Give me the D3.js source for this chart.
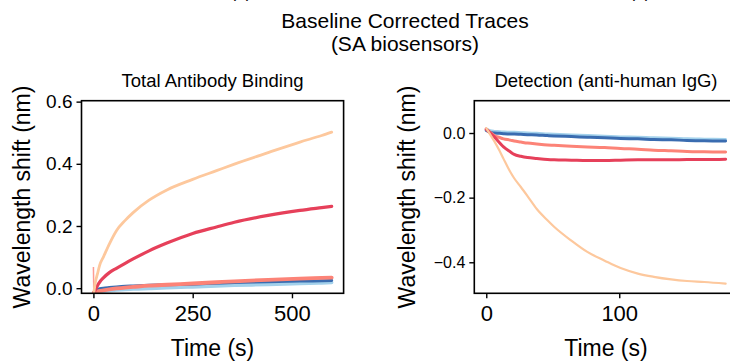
<!DOCTYPE html>
<html>
<head>
<meta charset="utf-8">
<script src="https://cdn.jsdelivr.net/npm/d3@7"></script>
<style>
  body { margin: 0; background: #fff; }
  text { font-family: "Liberation Sans", Arial, sans-serif; fill: #000; }
</style>
</head>
<body>
<div id="chart"></div>
<script>
// colours of the five traces
let colors = {
  peach: "#fdc89d",
  crimson: "#e6405a",
  salmon: "#fc8377",
  darkBlue: "#3a6cb0",
  lightBlue: "#a3d1eb"
};

// left panel: total antibody binding
let leftTime = [1, 5, 10, 16, 25, 40, 58, 80, 100, 140, 185, 250, 310, 355, 440, 520, 575, 600];
let leftPeach = [-0.015, 0.02, 0.045, 0.075, 0.1, 0.142, 0.185, 0.218, 0.243, 0.283, 0.316, 0.35, 0.378, 0.399, 0.436, 0.47, 0.491, 0.502];
let leftCrimson = [-0.015, -0.005, 0.008, 0.02, 0.033, 0.05, 0.064, 0.08, 0.094, 0.12, 0.145, 0.176, 0.197, 0.212, 0.234, 0.25, 0.259, 0.263];
let leftSalmon = [-0.015, -0.013, -0.011, -0.009, -0.007, -0.004, -0.001, 0.002, 0.004, 0.008, 0.011, 0.015, 0.019, 0.022, 0.027, 0.031, 0.033, 0.034];
let leftDarkBlue = [-0.015, -0.008, -0.004, -0.002, 0.0, 0.002, 0.004, 0.006, 0.007, 0.009, 0.011, 0.013, 0.016, 0.018, 0.021, 0.023, 0.024, 0.025];
let leftLightBlue = [-0.015, -0.013, -0.012, -0.011, -0.01, -0.008, -0.006, -0.004, -0.003, -0.001, 0.001, 0.004, 0.007, 0.009, 0.012, 0.015, 0.017, 0.018];
let leftSpike = [[0, 0.068], [1, -0.015]];
let leftXTicks = [0, 250, 500];
let leftYTicks = [0.0, 0.2, 0.4, 0.6];

// right panel: detection (anti-human IgG)
let rightTime = [0, 3, 6, 10, 13, 18, 21, 26, 31, 38, 46, 51, 64, 76, 89, 101, 114, 126, 139, 151, 164, 180];
let rightPeach = [0.015, -0.005, -0.025, -0.055, -0.08, -0.12, -0.14, -0.167, -0.195, -0.235, -0.27, -0.29, -0.333, -0.368, -0.395, -0.418, -0.435, -0.445, -0.453, -0.458, -0.461, -0.466];
let rightCrimson = [0.012, 0.0, -0.012, -0.03, -0.043, -0.058, -0.066, -0.072, -0.076, -0.079, -0.082, -0.083, -0.084, -0.085, -0.085, -0.084, -0.083, -0.083, -0.083, -0.082, -0.082, -0.081];
let rightSalmon = [0.012, 0.002, -0.008, -0.014, -0.018, -0.022, -0.025, -0.028, -0.031, -0.034, -0.037, -0.038, -0.041, -0.043, -0.045, -0.048, -0.05, -0.053, -0.055, -0.057, -0.058, -0.059];
let rightDarkBlue = [0.008, 0.002, 0.0, -0.001, -0.002, -0.003, -0.003, -0.004, -0.005, -0.006, -0.008, -0.009, -0.011, -0.013, -0.015, -0.017, -0.018, -0.02, -0.021, -0.023, -0.024, -0.025];
let rightLightBlue = [0.012, 0.007, 0.005, 0.004, 0.003, 0.002, 0.002, 0.001, 0.0, -0.001, -0.003, -0.004, -0.006, -0.008, -0.01, -0.012, -0.013, -0.015, -0.016, -0.018, -0.019, -0.02];
let rightXTicks = [0, 100];
let rightYTicks = [0.0, -0.2, -0.4];

let width = 730;
let height = 362;

let svg = d3.select("#chart")
  .append("svg")
  .attr("width", width)
  .attr("height", height);

// suptitle, plus the bottoms of a cut-off line above it
svg.append("text").attr("x", 241).attr("y", -2).attr("text-anchor", "middle")
  .style("font-size", "17px").text("(a)");
svg.append("text").attr("x", 640).attr("y", -2).attr("text-anchor", "middle")
  .style("font-size", "17px").text("(b)");
svg.append("text").attr("x", 405).attr("y", 28).attr("text-anchor", "middle")
  .style("font-size", "21px").text("Baseline Corrected Traces");
svg.append("text").attr("x", 405).attr("y", 51).attr("text-anchor", "middle")
  .style("font-size", "21px").text("(SA biosensors)");

function drawPanel(opt) {
  let x = d3.scaleLinear().domain(opt.xDomain).range([opt.left, opt.right]);
  let y = d3.scaleLinear().domain(opt.yDomain).range([opt.bottom, opt.top]);
  let g = svg.append("g");

  let clipId = "clip" + opt.id;
  g.append("clipPath").attr("id", clipId)
    .append("rect")
    .attr("x", opt.left).attr("y", opt.top)
    .attr("width", opt.right - opt.left).attr("height", opt.bottom - opt.top);

  let line = d3.line()
    .curve(d3.curveMonotoneX)
    .x(function (d) { return x(d[0]); })
    .y(function (d) { return y(d[1]); });

  let traces = g.append("g").attr("clip-path", "url(#" + clipId + ")");
  opt.series.forEach(function (s) {
    let pts = opt.time.map(function (t, i) { return [t, s.values[i]]; });
    traces.append("path")
      .attr("d", line(pts))
      .attr("fill", "none")
      .attr("stroke", s.color)
      .attr("stroke-width", s.width || 3)
      .attr("stroke-linejoin", "round")
      .attr("stroke-linecap", "round");
    if (s.extra) {
      traces.append("path")
        .attr("d", d3.line().x(function (d) { return x(d[0]); }).y(function (d) { return y(d[1]); })(s.extra))
        .attr("fill", "none")
        .attr("stroke", s.color)
        .attr("stroke-opacity", 0.8)
        .attr("stroke-width", 1.5);
    }
  });

  let xAxis = g.append("g")
    .attr("transform", "translate(0," + opt.bottom + ")")
    .call(d3.axisBottom(x).tickValues(opt.xTicks).tickSize(5).tickPadding(3)
      .tickFormat(d3.format("d")));
  xAxis.select(".domain").remove();
  xAxis.selectAll("line").attr("stroke", "#000").attr("stroke-width", 1.4);
  xAxis.selectAll("text").style("font-size", "22px").attr("dy", "0.9em");

  let yAxis = g.append("g")
    .attr("transform", "translate(" + opt.left + ",0)")
    .call(d3.axisLeft(y).tickValues(opt.yTicks).tickSize(5).tickPadding(4)
      .tickFormat(function (d) { return d3.format(".1f")(d).replace("-", "\u2212"); }));
  yAxis.select(".domain").remove();
  yAxis.selectAll("line").attr("stroke", "#000").attr("stroke-width", 1.4);
  yAxis.selectAll("text").style("font-size", opt.yTickSize);

  g.append("rect")
    .attr("x", opt.left).attr("y", opt.top)
    .attr("width", opt.right - opt.left).attr("height", opt.bottom - opt.top)
    .attr("fill", "none").attr("stroke", "#000").attr("stroke-width", 1.6);

  g.append("text")
    .attr("x", (opt.left + opt.right) / 2).attr("y", 87)
    .attr("text-anchor", "middle").style("font-size", "18.5px")
    .text(opt.title);

  g.append("text")
    .attr("x", (opt.left + opt.right) / 2).attr("y", 356)
    .attr("text-anchor", "middle").style("font-size", "23px")
    .text("Time (s)");

  g.append("text")
    .attr("transform", "translate(" + opt.yLabelX + "," + (opt.top + opt.bottom) / 2 + ") rotate(-90)")
    .attr("text-anchor", "middle").style("font-size", "23px")
    .text("Wavelength shift (nm)");
}

drawPanel({
  id: "L",
  left: 81.5, right: 343.6, top: 100.7, bottom: 293.3,
  xDomain: [-30, 630], yDomain: [-0.0165, 0.603],
  xTicks: leftXTicks, yTicks: leftYTicks, yTickSize: "19px",
  title: "Total Antibody Binding", yLabelX: 30,
  time: leftTime,
  series: [
    { color: colors.lightBlue, values: leftLightBlue, width: 3.5 },
    { color: colors.darkBlue, values: leftDarkBlue, width: 3 },
    { color: colors.salmon, values: leftSalmon, extra: leftSpike, width: 3.8 },
    { color: colors.crimson, values: leftCrimson, width: 3.2 },
    { color: colors.peach, values: leftPeach, width: 2.8 }
  ]
});

drawPanel({
  id: "R",
  left: 474.3, right: 737.6, top: 100.7, bottom: 293.3,
  xDomain: [-9, 189], yDomain: [-0.496, 0.1],
  xTicks: rightXTicks, yTicks: rightYTicks, yTickSize: "16px",
  title: "Detection (anti-human IgG)", yLabelX: 415,
  time: rightTime,
  series: [
    { color: colors.lightBlue, values: rightLightBlue, width: 3 },
    { color: colors.darkBlue, values: rightDarkBlue, width: 3 },
    { color: colors.salmon, values: rightSalmon, width: 3 },
    { color: colors.crimson, values: rightCrimson, width: 3 },
    { color: colors.peach, values: rightPeach, width: 2.2 }
  ]
});
</script>
</body>
</html>
